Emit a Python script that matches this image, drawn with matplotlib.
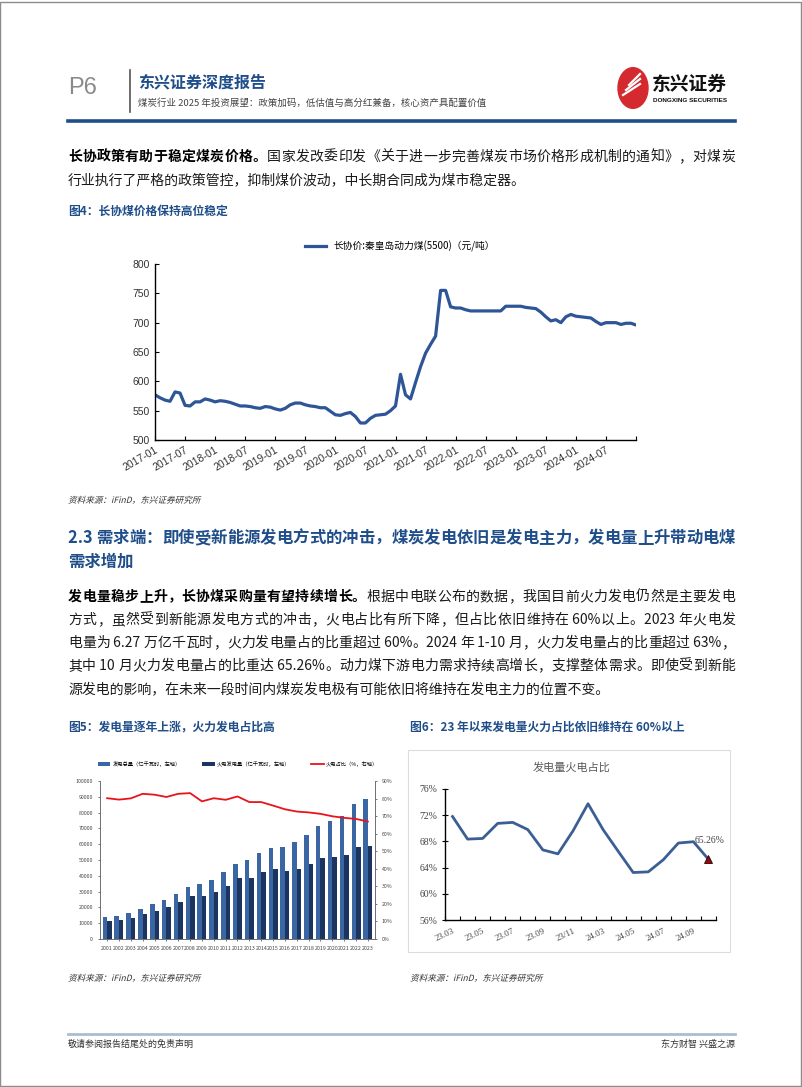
import re
import numpy as np
import matplotlib
matplotlib.use('Agg')
import matplotlib.pyplot as plt
import matplotlib.patches as mpatches
from matplotlib.lines import Line2D
from matplotlib.textpath import TextPath
from matplotlib.font_manager import FontProperties
from matplotlib.transforms import Affine2D

plt.rcParams['font.family'] = ['Noto Sans CJK SC', 'DejaVu Sans']
plt.rcParams['axes.unicode_minus'] = False

W, H = 802, 1087
BLUE = '#1F4E8A'
TEXT = '#1a1a1a'
CJK = ['Noto Sans CJK SC', 'DejaVu Sans']
SERIF = ['Liberation Serif', 'Noto Sans CJK SC']

# ---- 图4 data: 长协价 秦皇岛动力煤(5500), monthly from 2017-01
coal_price = [577, 572, 568, 566, 582, 580, 559, 558, 565, 565, 570, 568,
              565, 567, 566, 564, 561, 558, 558, 557, 555, 554, 557, 556,
              553, 551, 554, 560, 563, 563, 560, 558, 557, 555, 555, 549,
              543, 542, 545, 547, 540, 529, 529, 537, 542, 543, 544, 550,
              558, 612, 577, 570, 598, 625, 648, 663, 677, 755, 755, 727,
              725, 725, 722, 720, 720, 720, 720, 720, 720, 720, 728, 728,
              728, 728, 726, 725, 724, 718, 710, 703, 705, 700, 710, 714,
              711, 710, 709, 708, 702, 697, 700, 700, 700, 697, 699, 699, 696]
coal_ticks = ['2017-01', '2017-07', '2018-01', '2018-07', '2019-01', '2019-07',
              '2020-01', '2020-07', '2021-01', '2021-07', '2022-01', '2022-07',
              '2023-01', '2023-07', '2024-01', '2024-07']

# ---- 图5 data
years = [str(y) for y in range(2001, 2024)]
total_gen = [13700, 14800, 16500, 19100, 22000, 25000, 28700, 32800, 34700,
             37100, 42300, 47300, 49900, 54300, 57900, 58100, 61400, 66000,
             71700, 75000, 77800, 85300, 88500]
thermal_gen = [11100, 12000, 13400, 15800, 18000, 20300, 23500, 27100, 26900,
               29800, 33300, 38300, 38900, 42500, 44000, 42800, 44300, 47500,
               51000, 52200, 53300, 58300, 58700]
thermal_share = [80.2, 79.4, 80.1, 82.7, 82.2, 80.9, 82.7, 83.1, 78.4, 80.2,
                 79.3, 81.2, 78.0, 78.0, 76.0, 73.9, 72.6, 72.1, 71.3, 69.9,
                 69.0, 68.4, 66.9]

# ---- 图6 data
months6 = ['23.03', '23.04', '23.05', '23.06', '23.07', '23.08', '23.09', '23.10',
           '23/11', '23.12', '24.03', '24.04', '24.05', '24.06', '24.07', '24.08',
           '24.09', '24.10']
share6 = [71.8, 68.35, 68.45, 70.75, 70.9, 69.8, 66.7, 66.1, 69.6, 73.75,
          69.8, 66.5, 63.25, 63.35, 65.2, 67.75, 67.95, 65.26]

SOURCE = '资料来源：iFinD，东兴证券研究所'


def fx(x):
    return x / W


def fy(y):
    return 1 - y / H


def rect(x0, y0, x1, y1):
    return [x0 / W, 1 - y1 / H, (x1 - x0) / W, (y1 - y0) / H]


fig = plt.figure(figsize=(W / 100, H / 100), dpi=100)
renderer = fig.canvas.get_renderer()

# page frame
fig.patches.append(mpatches.Rectangle((0.0005, 0.0005), 0.998, 0.998, transform=fig.transFigure,
                                      fill=False, edgecolor='#8c8c8c', lw=1))


def put(x, y, s, **kw):
    kw.setdefault('family', CJK)
    kw.setdefault('va', 'center')
    return fig.text(fx(x), fy(y), s, **kw)


def justify_line(y, parts, x0=68, x1=735, size=10, color=TEXT):
    # place character by character so the line fills the text width
    objs = []
    for text, weight in parts:
        c = color if weight == 'normal' else ('black' if color == TEXT else color)
        for tok in re.findall(r' ?[A-Za-z0-9%.\-]+ ?|.', text):
            objs.append(put(0, y, tok, fontsize=size, weight=weight, color=c))
    widths = [t.get_window_extent(renderer).width for t in objs]
    gap = (x1 - x0 - sum(widths)) / (len(objs) - 1)
    x = x0
    for t, w in zip(objs, widths):
        t.set_x(fx(x))
        x += w + gap


def italic_note(x, y, s, size=8.6, color='#333333'):
    # CJK font has no italic, so slant the glyph outlines
    tp = TextPath((0, 0), s, size=size, prop=FontProperties(family=CJK))
    tr = Affine2D().skew_deg(14, 0).translate(x, H - y - size * 0.35)
    fig.patches.append(mpatches.PathPatch(tp, transform=tr, color=color, lw=0))


# ---- header
put(68, 88, 'P6', fontsize=17, color='#8a8a8a', family=['Liberation Sans'])
fig.add_artist(Line2D([fx(130), fx(130)], [fy(70), fy(112)], color='#555555', lw=1.2))
put(138, 82, '东兴证券深度报告', fontsize=11.5, weight='bold', color=BLUE)
put(138, 103, '煤炭行业 2025 年投资展望：政策加码，低估值与高分红兼备，核心资产具配置价值',
    fontsize=6.8, color='#444444')
fig.patches.append(mpatches.Circle((fx(633), fy(88)), 15 / W, transform=fig.transFigure,
                                   color='#D42A2F'))
for i in range(3):
    fig.add_artist(Line2D([fx(623 + i * 3), fx(640)], [fy(95 - i * 5), fy(84 - i * 5)],
                          color='white', lw=1.6))
put(652, 84, '东兴证券', fontsize=13.5, weight='bold', color='#111111')
put(653, 101, 'DONGXING SECURITIES', fontsize=4.6, weight='bold', color='#111111',
    family=['Liberation Sans'])
fig.add_artist(Line2D([fx(68), fx(735)], [fy(121), fy(121)], color='#1F4E8A', lw=2.6))

# ---- paragraph 1
justify_line(157, [('长协政策有助于稳定煤炭价格。', 'bold'),
                   ('国家发改委印发《关于进一步完善煤炭市场价格形成机制的通知》，对煤炭', 'normal')])
put(68, 180, '行业执行了严格的政策管控，抑制煤价波动，中长期合同成为煤市稳定器。', fontsize=10, color=TEXT)
put(68, 211, '图4：长协煤价格保持高位稳定', fontsize=8.5, weight='bold', color=BLUE)

# ---- chart 4
ax4 = fig.add_axes(rect(155, 264, 636, 440))
xm = np.arange(len(coal_price))
ax4.plot(xm, coal_price, color='#2E5597', lw=2.3, label='长协价:秦皇岛动力煤(5500)（元/吨）')
ax4.set_xlim(0, 96)
ax4.set_ylim(500, 800)
ax4.set_yticks(range(500, 801, 50))
ax4.set_xticks(range(0, 97, 6))
ax4.set_xticklabels(coal_ticks + [''], rotation=30, ha='right', rotation_mode='anchor',
                    fontsize=7.5, family=['Liberation Sans'], color='#333333')
for lab in ax4.get_yticklabels():
    lab.set_fontsize(7.5)
    lab.set_family(['Liberation Sans'])
    lab.set_color('#333333')
ax4.tick_params(direction='in', length=3, width=0.8)
for s in ['top', 'right']:
    ax4.spines[s].set_visible(False)
for s in ['left', 'bottom']:
    ax4.spines[s].set_linewidth(1.0)
fig.legend(loc='center', bbox_to_anchor=(fx(400), fy(246)), frameon=False,
           handlelength=2.2, prop={'family': CJK, 'size': 7})

italic_note(68, 500, SOURCE)

# ---- section heading & paragraph 2
justify_line(538, [('2.3 需求端：即使受新能源发电方式的冲击，煤炭发电依旧是发电主力，发电量上升带动电煤', 'bold')],
             size=11.8, color=BLUE)
put(68, 562, '需求增加', fontsize=11.8, weight='bold', color=BLUE)
justify_line(597, [('发电量稳步上升，长协煤采购量有望持续增长。', 'bold'),
                   ('根据中电联公布的数据，我国目前火力发电仍然是主要发电', 'normal')])
para2 = ['方式，虽然受到新能源发电方式的冲击，火电占比有所下降，但占比依旧维持在 60%以上。2023 年火电发',
         '电量为 6.27 万亿千瓦时，火力发电量占的比重超过 60%。2024 年 1-10 月，火力发电量占的比重超过 63%，',
         '其中 10 月火力发电量占的比重达 65.26%。动力煤下游电力需求持续高增长，支撑整体需求。即使受到新能']
for i, line in enumerate(para2):
    justify_line(620 + 23 * i, [(line, 'normal')])
put(68, 689, '源发电的影响，在未来一段时间内煤炭发电极有可能依旧将维持在发电主力的位置不变。',
    fontsize=10, color=TEXT)

put(68, 727, '图5：发电量逐年上涨，火力发电占比高', fontsize=8.5, weight='bold', color=BLUE)
put(410, 727, '图6：23 年以来发电量火力占比依旧维持在 60%以上', fontsize=8.5, weight='bold', color=BLUE)

# ---- chart 5
ax5 = fig.add_axes(rect(100, 781, 375, 939))
xb = np.arange(len(years))
b1 = ax5.bar(xb - 0.19, total_gen, width=0.38, color='#3A66A3', label='发电总量（亿千瓦时，左轴）')
b2 = ax5.bar(xb + 0.19, thermal_gen, width=0.38, color='#1B3460', label='火电发电量（亿千瓦时，左轴）')
ax5.set_xlim(-0.6, len(years) - 0.4)
ax5.set_ylim(0, 100000)
ax5.set_yticks(range(0, 100001, 10000))
ax5.set_xticks(xb)
ax5.set_xticklabels(years)
ax5.tick_params(labelsize=3.8, length=1.5, width=0.5, colors='#444444')
ax5r = ax5.twinx()
l1, = ax5r.plot(xb, thermal_share, color='#E8141B', lw=1.3, label='火电占比（%，右轴）')
ax5r.set_ylim(0, 90)
ax5r.set_yticks(range(0, 91, 10))
ax5r.set_yticklabels([f'{v}%' for v in range(0, 91, 10)])
ax5r.tick_params(labelsize=3.8, length=1.5, width=0.5, colors='#444444')
for a in (ax5, ax5r):
    a.spines['top'].set_visible(False)
    for s in ['left', 'right', 'bottom']:
        a.spines[s].set_linewidth(0.5)
        a.spines[s].set_color('#666666')
fig.legend(handles=[b1, b2, l1], loc='center', bbox_to_anchor=(fx(238), fy(764)), ncol=3,
           frameon=False, prop={'family': CJK, 'size': 3.8}, handlelength=2.4,
           columnspacing=4, handletextpad=0.4)

italic_note(68, 978, SOURCE)

# ---- chart 6
fig.patches.append(mpatches.Rectangle((fx(408), fy(952)), (730 - 408) / W, (952 - 750) / H,
                                      transform=fig.transFigure, fill=False,
                                      edgecolor='#dddddd', lw=0.8))
put(572, 768, '发电量火电占比', fontsize=8, color='#595959', ha='center')
ax6 = fig.add_axes(rect(445, 789, 716, 920))
x6 = np.arange(len(months6))
ax6.plot(x6, share6, color='#3B5F94', lw=2.0)
ax6.plot(x6[-1], share6[-1], marker='^', ms=6, color='#8B0D0D', mec='#300000', mew=0.6)
ax6.text(x6[-1] + 0.1, 68.2, '65.26%', ha='center', va='center', fontsize=7,
         family=SERIF, color='#444444')
ax6.set_xlim(-0.5, len(months6) - 0.5)
ax6.set_ylim(56, 76)
ax6.set_yticks(range(56, 77, 4))
ax6.set_yticklabels([f'{v}%' for v in range(56, 77, 4)], family=SERIF, fontsize=7, color='#444444')
ax6.set_xticks(x6[::2])
ax6.set_xticklabels(months6[::2], rotation=25, ha='right', rotation_mode='anchor',
                    family=SERIF, fontsize=6.5, color='#444444')
ax6.set_xticks(np.arange(-0.5, len(months6), 1), minor=True)
ax6.tick_params(axis='x', which='major', length=0, pad=5)
ax6.tick_params(axis='x', which='minor', direction='in', length=3, width=0.8)
ax6.tick_params(axis='y', direction='inout', length=4, width=0.8)
for s in ['top', 'right']:
    ax6.spines[s].set_visible(False)
for s in ['left', 'bottom']:
    ax6.spines[s].set_linewidth(1.0)

italic_note(410, 978, SOURCE)

# ---- footer
fig.add_artist(Line2D([fx(68), fx(735)], [fy(1034), fy(1034)], color='#A9BDD2', lw=2))
put(68, 1044, '敬请参阅报告结尾处的免责声明', fontsize=6.5, color='#333333')
put(735, 1044, '东方财智 兴盛之源', fontsize=6.5, color='#333333', ha='right')

fig.savefig('out.png', dpi=100)
